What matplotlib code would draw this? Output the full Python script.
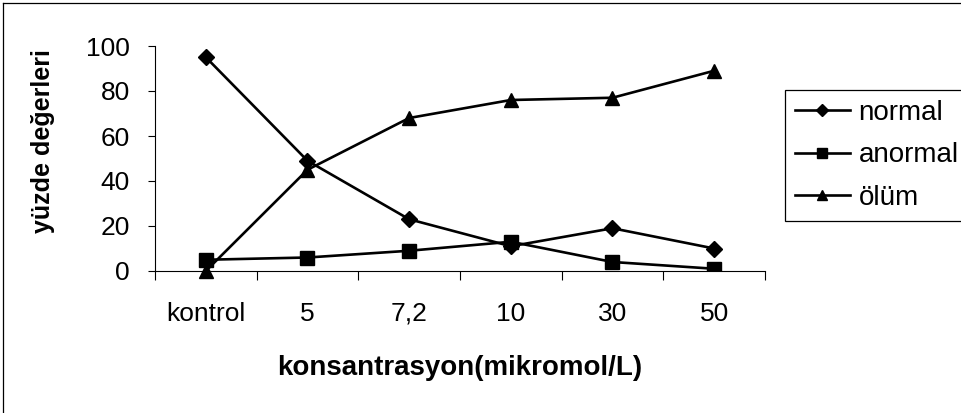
import matplotlib
matplotlib.use("Agg")
import matplotlib.pyplot as plt
from matplotlib.lines import Line2D

plt.rcParams['font.family'] = ['Liberation Sans', 'DejaVu Sans']

categories = ["kontrol", "5", "7,2", "10", "30", "50"]
normal = [95, 49, 23, 11, 19, 10]
anormal = [5, 6, 9, 13, 4, 1]
olum = [0, 45, 68, 76, 77, 89]
y_ticks = [0, 20, 40, 60, 80, 100]

W, H = 962, 413
fig = plt.figure(figsize=(W / 100, H / 100), dpi=100)
ax = fig.add_axes([155 / W, 1 - 271 / H, 610 / W, 225 / H])

x = list(range(len(categories)))
lw = 1.9
ax.plot(x, normal, color="black", lw=lw, marker="D", ms=7.8, label="normal")
ax.plot(x, anormal, color="black", lw=lw, marker="s", ms=9.6, label="anormal")
ax.plot(x, olum, color="black", lw=lw, marker="^", ms=10.5, label="ölüm",
        clip_on=False)

ax.set_xlim(-0.5, len(categories) - 0.5)
ax.set_ylim(0, 100)

# category boundaries carry the tick marks, centres carry the labels
ax.set_xticks([i - 0.5 for i in range(len(categories) + 1)])
ax.set_xticklabels([])
ax.set_xticks(x, minor=True)
ax.set_xticklabels(categories, minor=True, fontsize=19)
ax.tick_params(axis="x", which="major", direction="out", length=6.5, width=0.8)
ax.tick_params(axis="x", which="minor", length=0, pad=22)

ax.set_yticks(y_ticks)
ax.set_yticklabels([str(v) for v in y_ticks], fontsize=19)
ax.tick_params(axis="y", direction="out", length=5, width=0.8, pad=13)

for side in ("top", "right"):
    ax.spines[side].set_visible(False)
for side in ("left", "bottom"):
    ax.spines[side].set_linewidth(0.8)

ax.set_xlabel("konsantrasyon(mikromol/L)", fontsize=20, fontweight="bold")
ax.xaxis.label.set_va("baseline")
ax.xaxis.set_label_coords(0.5, -(375 - 271) / 225)

ax.set_ylabel("yüzde değerleri", fontsize=18, fontweight="bold")
ax.yaxis.label.set_va("center")
ax.yaxis.set_label_coords((43 - 155) / 610, (271 - 141) / 225)

leg = ax.legend(loc="upper left", bbox_to_anchor=(785 / W, 1 - 90 / H),
                bbox_transform=fig.transFigure, fontsize=20, frameon=True,
                fancybox=False, edgecolor="black", framealpha=1,
                handlelength=2.0, handletextpad=0.3, borderpad=0.35,
                labelspacing=0.6, markerscale=0.75, borderaxespad=0)
leg.get_frame().set_linewidth(0.9)

# outer chart border
fig.add_artist(Line2D([2.5 / W, 2.5 / W], [0, 1 - 2.5 / H], color="black",
                      lw=0.9, transform=fig.transFigure))
fig.add_artist(Line2D([2.5 / W, 1], [1 - 2.5 / H, 1 - 2.5 / H], color="black",
                      lw=0.9, transform=fig.transFigure))

fig.savefig("out.png", dpi=100)
